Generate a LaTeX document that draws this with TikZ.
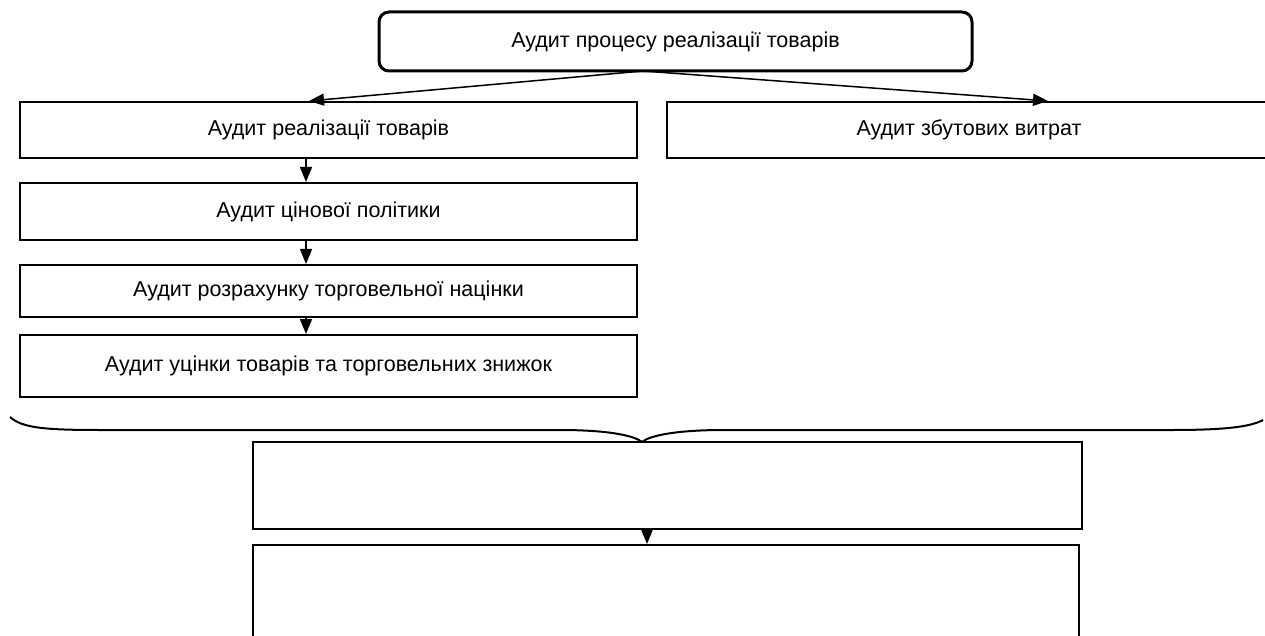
\documentclass[tikz,border=0pt]{standalone}
\usepackage{fontspec}
\setmainfont{Liberation Sans}
\usetikzlibrary{arrows.meta,calc}
\begin{document}
\begin{tikzpicture}[x=1pt,y=-1pt,
  box/.style={draw,line width=2pt,inner sep=0pt,font=\fontsize{21.5}{24}\selectfont},
  arr/.style={line width=1.5pt,-{Triangle[length=15pt,width=12pt]}},
  brace/.style={line width=2pt}]
\clip (0,0) rectangle (1265,636);
\fill[white] (0,0) rectangle (1265,636);
\node[box,line width=3pt,rounded corners=10pt,minimum width=593pt,minimum height=59pt] (top) at (675.5,41.5) {Аудит процесу реалізації товарів};
\node[box,minimum width=617pt,minimum height=56pt] (b1) at (328.5,130) {Аудит реалізації товарів};
\node[box,minimum width=604pt,minimum height=56pt] (bz) at (969,130) {Аудит збутових витрат};
\node[box,minimum width=617pt,minimum height=57pt] (b2) at (328.5,211.5) {Аудит цінової політики};
\node[box,minimum width=617pt,minimum height=52pt] (b3) at (328.5,291) {Аудит розрахунку торговельної націнки};
\node[box,minimum width=617pt,minimum height=62pt] (b4) at (328.5,366) {Аудит уцінки товарів та торговельних знижок};
\node[box,minimum width=829pt,minimum height=87pt] (b5) at (667.5,485.5) {};
\node[box,minimum width=826pt,minimum height=110pt] (b6) at (666,600) {};
\coordinate (o) at (643,71);
\coordinate (ax) at (306,0);
\coordinate (bx) at (647,0);
\draw[arr] (o) -- ($(b1.north west)+(290,0)$);
\draw[arr] (o) -- ($(bz.north west)+(382,0)$);
\draw[arr] (b1.south -| ax) -- (b2.north -| ax);
\draw[arr] (b2.south -| ax) -- (b3.north -| ax);
\draw[arr] (b3.south -| ax) -- (b4.north -| ax);
\draw[arr] (b5.south -| bx) -- (b6.north -| bx);
\coordinate (tip) at (642,442);
\draw[brace] (10,417) .. controls (22,428) and (45,430) .. (100,430) -- (560,430)
  .. controls (610,430) and (635,436) .. (tip)
  .. controls (649,436) and (674,430) .. (724,430) -- (1173,430)
  .. controls (1230,430) and (1252,426) .. (1263,420);
\end{tikzpicture}
\end{document}
